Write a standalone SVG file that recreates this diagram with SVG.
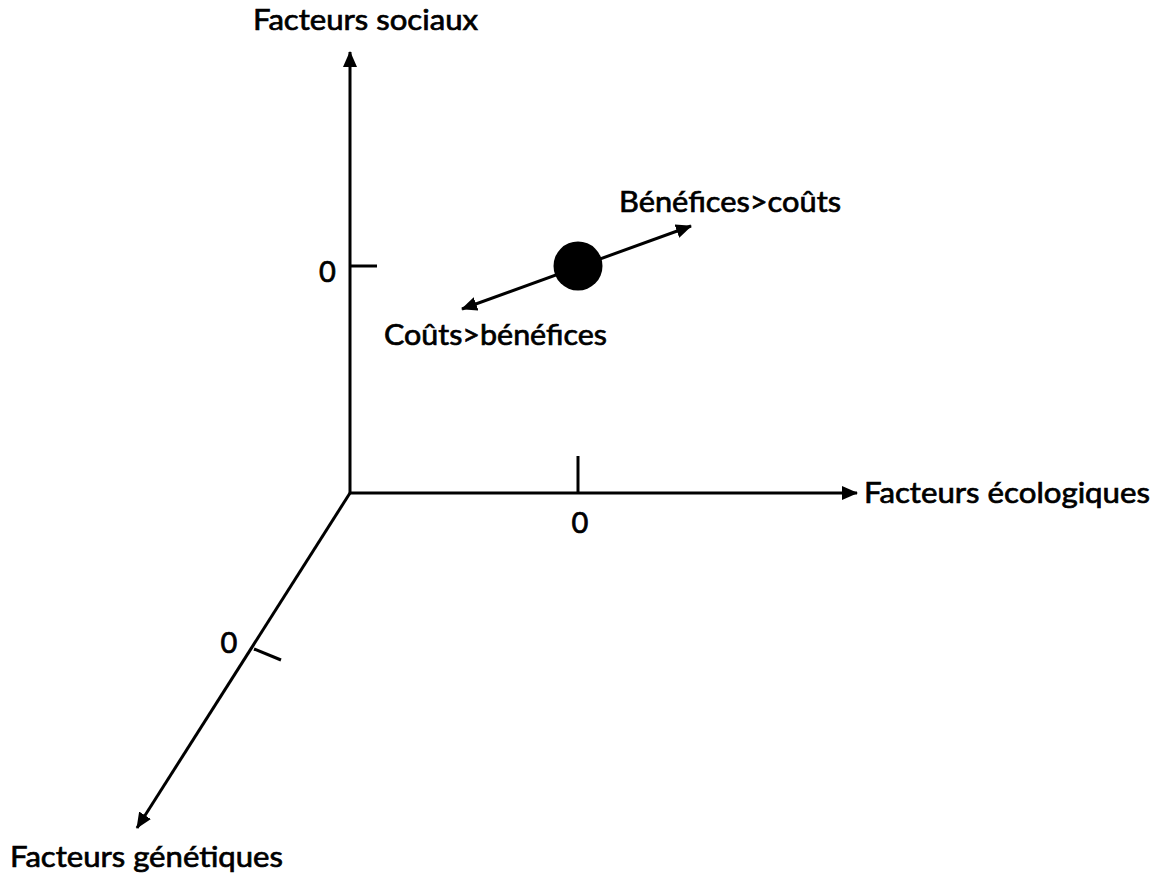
<svg xmlns="http://www.w3.org/2000/svg" width="1157" height="878" viewBox="0 0 1157 878">
<style>
.t{font-family:"Lato","Open Sans","Liberation Sans",sans-serif;font-size:29px;fill:#000;stroke:#000;stroke-width:0.7}
.ax{stroke:#000;stroke-width:3;fill:none}
</style>
<defs>
<marker id="ah" markerUnits="userSpaceOnUse" markerWidth="16" markerHeight="14" refX="15" refY="7" orient="auto-start-reverse">
<path d="M0,0 L16,7 L0,14 Z" fill="#000"/>
</marker>
</defs>
<rect width="1157" height="878" fill="#fff"/>
<g id="connectors">
<line class="ax" x1="350" y1="494" x2="350" y2="52" marker-end="url(#ah)"/>
<line class="ax" x1="349" y1="493" x2="857" y2="493" marker-end="url(#ah)"/>
<line class="ax" x1="350" y1="493" x2="137" y2="828" marker-end="url(#ah)"/>
<line class="ax" x1="578" y1="456" x2="578" y2="493"/>
<line class="ax" x1="350" y1="266" x2="377" y2="266"/>
<line class="ax" x1="254" y1="649" x2="281" y2="660"/>
<line class="ax" x1="462" y1="309" x2="691" y2="226" marker-start="url(#ah)" marker-end="url(#ah)"/>
</g>
<g id="point"><circle cx="578" cy="266" r="24.5" fill="#000"/></g>
<g id="labels">
<text class="t" x="253" y="30" textLength="225" lengthAdjust="spacingAndGlyphs">Facteurs sociaux</text>
<text class="t" x="864" y="503" textLength="286" lengthAdjust="spacingAndGlyphs">Facteurs écologiques</text>
<text class="t" x="10" y="867" textLength="273" lengthAdjust="spacingAndGlyphs">Facteurs génétiques</text>
<text class="t" x="619" y="212" textLength="222" lengthAdjust="spacingAndGlyphs">Bénéfices&gt;coûts</text>
<text class="t" x="384" y="345" textLength="223" lengthAdjust="spacingAndGlyphs">Coûts&gt;bénéfices</text>
<text class="t" x="327.5" y="282" text-anchor="middle">0</text>
<text class="t" x="580" y="533" text-anchor="middle">0</text>
<text class="t" x="229" y="653" text-anchor="middle">0</text>
</g>
</svg>
